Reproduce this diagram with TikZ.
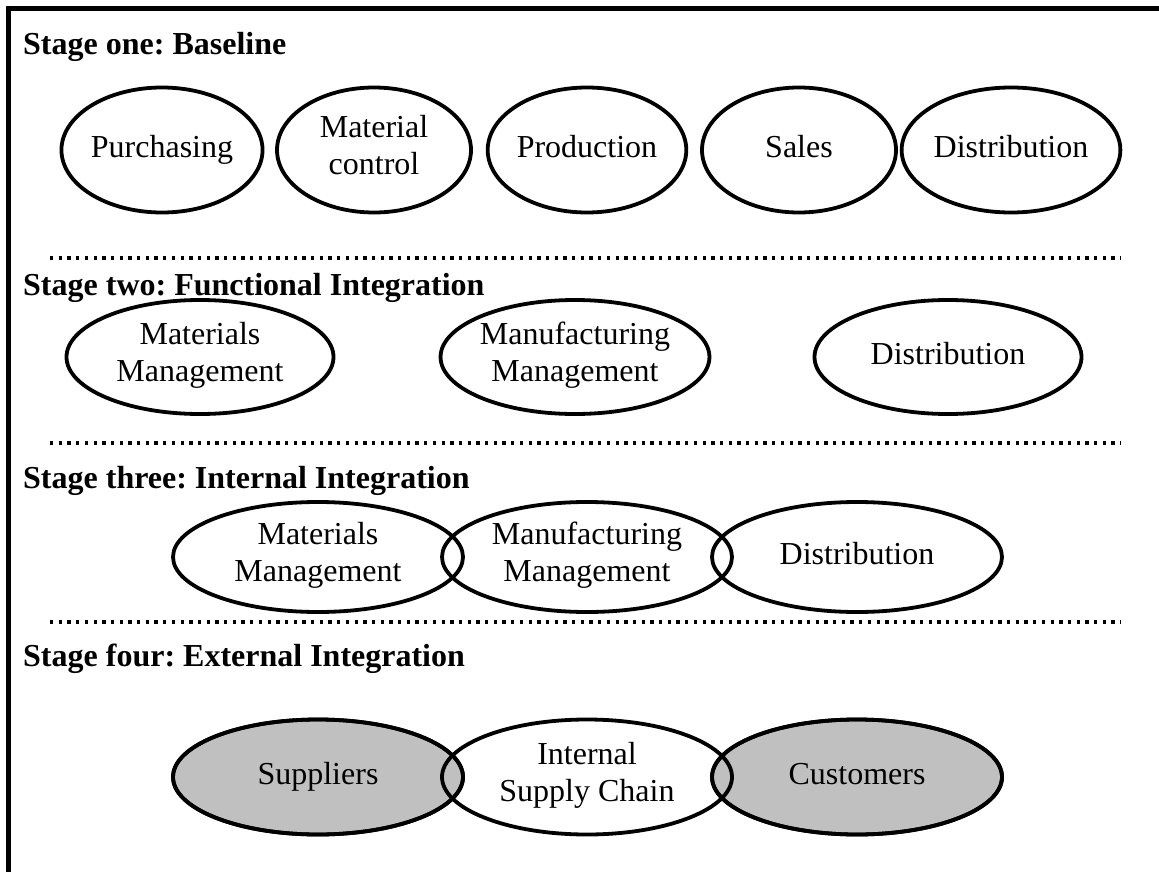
\documentclass[tikz,border=0pt]{standalone}
\usepackage{fontspec}
\setmainfont{Liberation Serif}
\usetikzlibrary{shapes.geometric, positioning}
\definecolor{shade}{RGB}{192,192,192}
\frenchspacing

\begin{document}
\begin{tikzpicture}[x=1pt, y=-1pt,
    func/.style={ellipse, draw, line width=3.8pt, inner sep=0pt, align=center,
        font=\fontsize{32}{37}\selectfont,
        execute at begin node=\strut, execute at end node=\strut},
    stagehead/.style={anchor=base west, inner sep=0pt, font=\fontsize{32}{37}\selectfont\bfseries},
    sepline/.style={line width=3.3pt, dash pattern=on 3.3pt off 5.4pt}]
\useasboundingbox (0,0) rectangle (1159,872);
\draw[line width=5pt] (8.5,872) -- (8.5,8.5) -- (1159,8.5);

% stage one
\node[stagehead] (h1) at (23,55) {Stage one: Baseline};
\begin{scope}[every node/.style={func, minimum width=194pt, minimum height=125pt}]
    \node (pur) at (162,150) {Purchasing};
    \node (mat) at (374,150) {Material\\control};
    \node (pro) at (587,150) {Production};
    \node (sal) at (799,150) {Sales};
    \node (dis) at (1011,150) {Distribution};
\end{scope}
\draw[sepline] (50,258) -- (1121,258);

% stage two
\node[stagehead] (h2) at (23,295) {Stage two: Functional Integration};
\begin{scope}[every node/.style={func, minimum width=267pt, minimum height=114pt}]
    \node (mm2) at (200,357) {Materials\\Management};
    \node (mf2) at (575,357) {Manufacturing\\Management};
    \node (di2) at (948,357) {Distribution};
\end{scope}
\draw[sepline] (50,443) -- (1121,443);

% stage three
\node[stagehead] (h3) at (23,488) {Stage three: Internal Integration};
\begin{scope}[every node/.style={func, minimum width=290pt, minimum height=110pt}]
    \node (mm3) at (318,557) {Materials\\Management};
    \node (mf3) at (587,557) {Manufacturing\\Management};
    \node (di3) at (857,557) {Distribution};
\end{scope}
\draw[sepline] (50,622) -- (1121,622);

% stage four
\node[stagehead] (h4) at (23,666) {Stage four: External Integration};
\begin{scope}[every node/.style={func, minimum width=290pt, minimum height=115pt}]
    \node[fill=shade] (sup) at (318,777) {Suppliers};
    \node[fill=shade] (cus) at (857,777) {Customers};
    \node (isc) at (587,777) {Internal\\Supply Chain};
\end{scope}
% outlines of the shaded ends drawn again over the middle one
\draw[line width=3.8pt] (sup.center) ellipse [x radius=145pt, y radius=57.5pt];
\draw[line width=3.8pt] (cus.center) ellipse [x radius=145pt, y radius=57.5pt];
\end{tikzpicture}
\end{document}
